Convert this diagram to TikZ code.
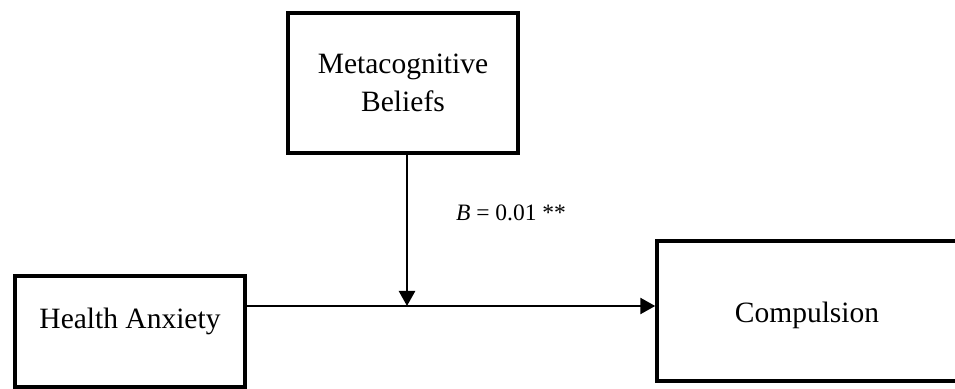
\documentclass[tikz,border=0pt]{standalone}
\usepackage{fontspec}
\setmainfont{Liberation Serif}
\usetikzlibrary{arrows.meta}
\begin{document}
\begin{tikzpicture}[x=1pt,y=1pt,
  box/.style={draw, line width=3.5pt, inner sep=0pt, align=center,
    font=\fontsize{29.5}{38}\selectfont},
  link/.style={line width=2.5pt, -{Triangle[width=16pt,length=15pt]}}]
\useasboundingbox (0,0) rectangle (955,388);
\clip (0,0) rectangle (955,388);
\node[box, minimum width=230pt, minimum height=140pt] (meta) at (403,305) {Metacognitive\\Beliefs};
\node[box, minimum width=230pt, minimum height=111pt] (health) at (130,56.5) {\raisebox{10pt}[20pt][7pt]{Health Anxiety}};
\node[box, minimum width=300pt, minimum height=140pt] (comp) at (807,77) {\raisebox{-5pt}[20pt][7pt]{Compulsion}};
\coordinate (mid) at (407,82);
\draw[link] (health.east |- mid) -- (comp.west |- mid);
\draw[link] (mid |- meta.south) -- (mid);
\node[font=\fontsize{23.5}{28}\selectfont] (lab) at (511,175) {\textit{B} = 0.01 **};
\end{tikzpicture}
\end{document}
